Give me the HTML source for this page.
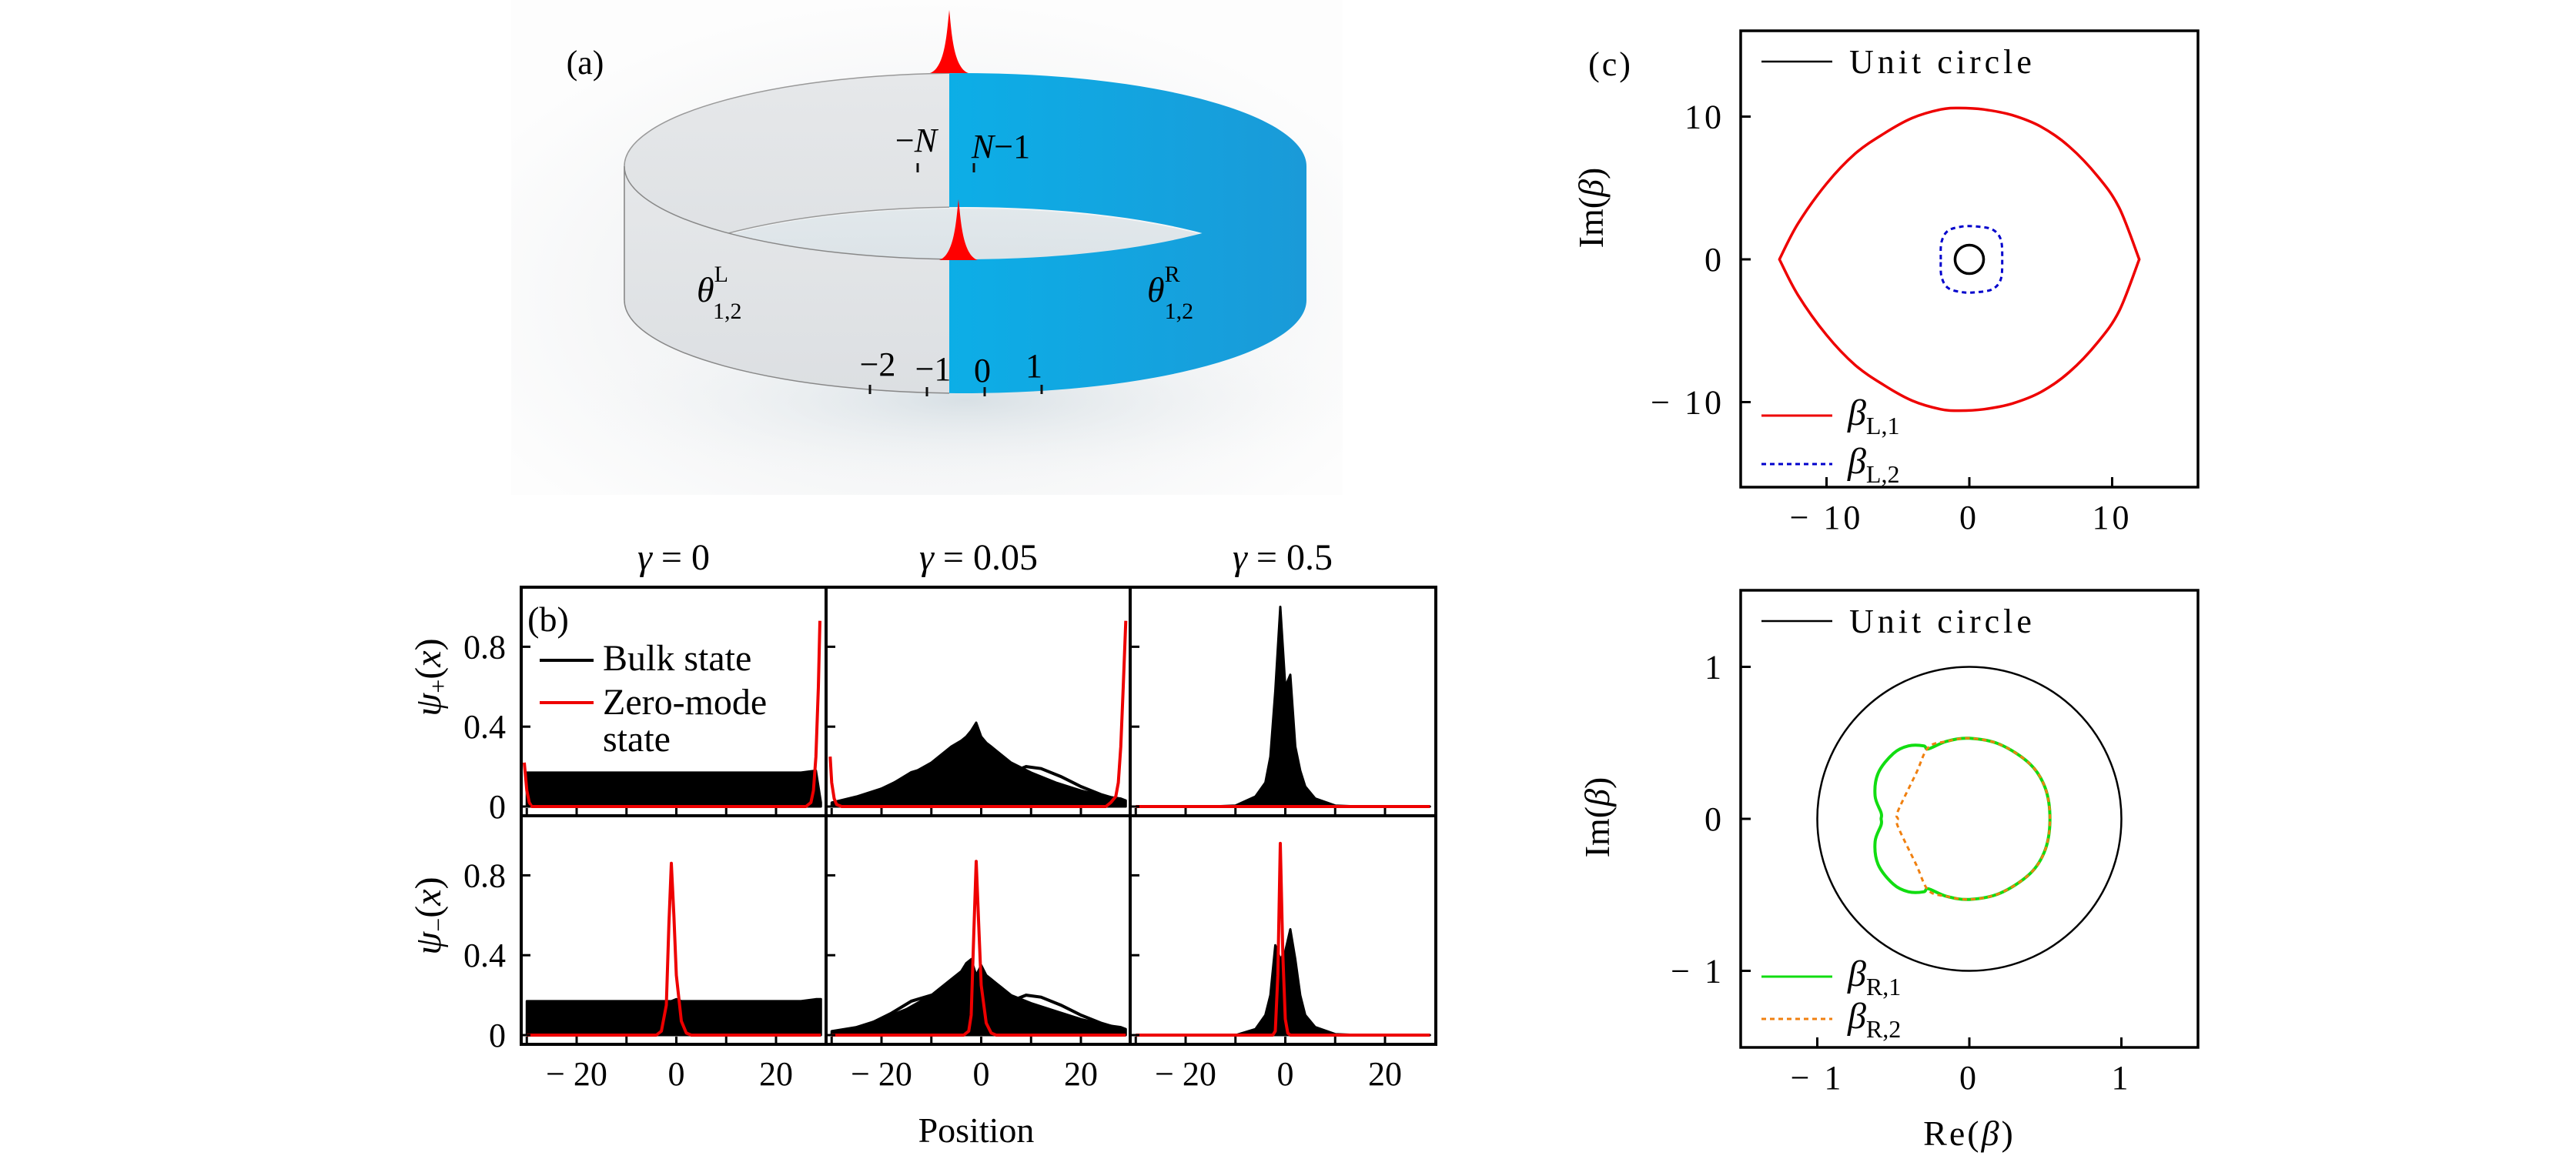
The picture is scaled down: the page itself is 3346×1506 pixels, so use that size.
<!DOCTYPE html>
<html><head><meta charset="utf-8">
<style>
html,body{margin:0;padding:0;background:#fff;}
svg{display:block;font-family:"Liberation Serif",serif;}
</style></head>
<body>
<svg id="fig" width="3346" height="1506" viewBox="0 0 3346 1506" xmlns="http://www.w3.org/2000/svg">
<defs>
  <radialGradient id="shadow" cx="0.5" cy="0.6" r="0.6">
    <stop offset="0" stop-color="#eceff1"/>
    <stop offset="0.6" stop-color="#f5f6f7"/>
    <stop offset="1" stop-color="#fdfdfd"/>
  </radialGradient>
  <radialGradient id="ringShadow" cx="0.5" cy="0.5" r="0.5">
    <stop offset="0" stop-color="#d8e0e5"/>
    <stop offset="1" stop-color="#f4f6f7" stop-opacity="0"/>
  </radialGradient>
  <linearGradient id="blueG" x1="0" y1="0" x2="1" y2="0">
    <stop offset="0" stop-color="#00c0f4"/>
    <stop offset="1" stop-color="#1a9ad8"/>
  </linearGradient>
  <linearGradient id="grayG" x1="0" y1="0" x2="0" y2="1">
    <stop offset="0" stop-color="#e6e8ea"/>
    <stop offset="1" stop-color="#dcdfe2"/>
  </linearGradient>
  <linearGradient id="floorG" x1="0" y1="0" x2="0" y2="1">
    <stop offset="0" stop-color="#dfe6ea"/>
    <stop offset="1" stop-color="#c9d4da"/>
  </linearGradient>
  <clipPath id="leftHalf"><rect x="600" y="0" width="633" height="700"/></clipPath>
  <clipPath id="rightHalf"><rect x="1233" y="0" width="600" height="700"/></clipPath>
</defs>

<g>
  <rect x="664" y="0" width="1080" height="643" fill="url(#shadow)"/>
  <ellipse cx="1254" cy="520" rx="500" ry="110" fill="url(#ringShadow)"/>
  <g>
    <path d="M811,216 A443,121 0 0 1 1697,216 L1697,390 A443,121 0 0 0 811,390 Z" fill="url(#grayG)" stroke="#999" stroke-width="1.5" clip-path="url(#leftHalf)"/>
    <path d="M811,216 A443,121 0 0 1 1697,216 L1697,390 A443,121 0 0 0 811,390 Z" fill="url(#blueG)" clip-path="url(#rightHalf)"/>
  </g>
  <ellipse cx="1254" cy="390" rx="440" ry="119" fill="url(#floorG)" opacity="0.85"/>
  <g>
    <path d="M811,216 A443,121 0 0 0 1697,216 L1697,390 A443,121 0 0 1 811,390 Z" fill="url(#grayG)" stroke="#888" stroke-width="1.5" clip-path="url(#leftHalf)"/>
    <path d="M811,216 A443,121 0 0 0 1697,216 L1697,390 A443,121 0 0 1 811,390 Z" fill="url(#blueG)" clip-path="url(#rightHalf)"/>
  </g>
  <path d="M1208,95 C1228,88 1230,40 1233,13 C1236,40 1238,88 1258,95 Z" fill="#f00"/>
  <path d="M1220,338 C1240,331 1242,285 1245,259 C1248,285 1250,331 1270,338 Z" fill="#f00"/>
  <g stroke="#111" stroke-width="3">
    <line x1="1192" y1="212" x2="1192" y2="224"/>
    <line x1="1265" y1="212" x2="1265" y2="224"/>
    <line x1="1130" y1="500" x2="1130" y2="512"/>
    <line x1="1204" y1="503" x2="1204" y2="515"/>
    <line x1="1279" y1="503" x2="1279" y2="515"/>
    <line x1="1353" y1="500" x2="1353" y2="512"/>
  </g>
  <text x="760" y="96" font-size="44" text-anchor="middle">(a)</text>
  <text x="1190" y="197" font-size="44" text-anchor="middle">−<tspan font-style="italic">N</tspan></text>
  <text x="1300" y="205" font-size="44" text-anchor="middle"><tspan font-style="italic">N</tspan>−1</text>
  <text x="905" y="392" font-size="46" font-style="italic">θ<tspan font-style="normal" font-size="30" dy="-26">L</tspan><tspan font-style="normal" font-size="30" dx="-20" dy="48">1,2</tspan></text>
  <text x="1490" y="392" font-size="46" font-style="italic">θ<tspan font-style="normal" font-size="30" dy="-26">R</tspan><tspan font-style="normal" font-size="30" dx="-20" dy="48">1,2</tspan></text>
  <text x="1140" y="488" font-size="44" text-anchor="middle">−2</text>
  <text x="1212" y="494" font-size="44" text-anchor="middle">−1</text>
  <text x="1276" y="496" font-size="44" text-anchor="middle">0</text>
  <text x="1343" y="490" font-size="44" text-anchor="middle">1</text>
</g>

<g id="panelB"></g>
<g id="panelC"></g>
</svg>

<script>
// ===== Panel (b) data =====
const colTitles = ["0", "0.05", "0.5"];
const xTicks = [-30, -20, -10, 0, 10, 20];
const xTickLabels = [-20, 0, 20];
const yTicks = [0, 0.4, 0.8];
const bulkX = [-30,-25,-20,-15,-10,-6,-4,-3,-2,-1,0,1,2,3,4,6,10,15,20,25,28,29];
const bulkPlusG0 = [0.17,0.17,0.17,0.17,0.17,0.17,0.17,0.17,0.17,0.17,0.17,0.17,0.17,0.17,0.17,0.17,0.17,0.17,0.17,0.17,0.18,0.02];
const bulkPlusG005 = [0.02,0.05,0.09,0.15,0.22,0.3,0.33,0.35,0.38,0.42,0.35,0.32,0.3,0.28,0.26,0.22,0.17,0.12,0.08,0.05,0.04,0.03];
const bulkPlusG05 = [0,0,0,0,0.005,0.05,0.12,0.25,0.58,1.0,0.6,0.66,0.3,0.18,0.1,0.04,0.005,0,0,0,0,0];
const bulkMinusG0 = [0.17,0.17,0.17,0.17,0.17,0.17,0.17,0.17,0.17,0.17,0.18,0.17,0.17,0.17,0.17,0.17,0.17,0.17,0.17,0.17,0.18,0.18];
const bulkMinusG005 = [0.02,0.04,0.08,0.13,0.2,0.28,0.32,0.36,0.38,0.3,0.35,0.3,0.28,0.26,0.24,0.2,0.16,0.12,0.08,0.05,0.04,0.03];
const bulkMinusG05 = [0,0,0,0,0,0.03,0.1,0.2,0.45,0.38,0.42,0.53,0.38,0.2,0.1,0.04,0.005,0,0,0,0,0];
const humpX = [-30,-26,-22,-18,-14,-10,-8,-5,-2,0];
const humpY = [0.01,0.03,0.06,0.11,0.17,0.2,0.2,0.17,0.1,0.05];
const hump2X = [0,4,7,9,12,16,20,24,28,29];
const hump2Y = [0.05,0.13,0.18,0.2,0.19,0.15,0.1,0.06,0.03,0.02];
const redPlusG0X = [-30.5,-30,-29.5,-29,-28,0,26,27,27.5,28,28.5,28.8];
const redPlusG0Y = [0.22,0.08,0.02,0,0,0,0,0.02,0.08,0.25,0.6,0.93];
const redPlusG005X = [-30.3,-30,-29.5,-29,-28,0,25,26,27,27.5,28,28.5,29];
const redPlusG005Y = [0.25,0.12,0.04,0.01,0,0,0,0.02,0.05,0.12,0.3,0.6,0.93];
const redPlusG05X = [-30,29];
const redPlusG05Y = [0,0];
const redMinusG0X = [-30,-4,-3,-2,-1.5,-1,-0.5,0,1,2,3,29];
const redMinusG0Y = [0,0,0.02,0.15,0.55,0.86,0.6,0.3,0.07,0.01,0,0];
const redMinusG005X = [-30,-3.5,-2.5,-2,-1.5,-1,-0.5,0,1,2,3,29];
const redMinusG005Y = [0,0,0.02,0.1,0.5,0.87,0.55,0.25,0.06,0.01,0,0];
const redMinusG05X = [-30,-2.5,-2,-1.5,-1,-0.5,0,0.5,1,29];
const redMinusG05Y = [0,0,0.02,0.3,0.96,0.4,0.08,0.01,0,0];

// ===== Panel (c) data =====
const cTicksTop = [-10, 0, 10];
const cTicksBot = [-1, 0, 1];
const redL1Re = [-13.3,-12,-10,-8,-6,-4,-2,-0.7,1,3,5,7,9,10.5,11.9];
const redL1Im = [0,2.5,5.3,7.4,8.8,9.9,10.5,10.6,10.5,10.1,9.3,7.9,5.8,3.6,0];
const blueL2Re = [-2,-1.95,-1.5,-0.5,0.5,1.6,2.2,2.3];
const blueL2Im = [0,1.2,2.0,2.3,2.3,2.1,1.4,0];
const greenR1Re = [0.53,0.5,0.4,0.2,0,-0.15,-0.27,-0.3,-0.4,-0.5,-0.6,-0.62,-0.58,-0.58];
const greenR1Im = [0,0.2,0.36,0.49,0.53,0.51,0.46,0.48,0.48,0.43,0.3,0.15,0.04,0];
const orangeR2Re = [0.53,0.5,0.4,0.2,0,-0.15,-0.27,-0.35,-0.47,-0.47];
const orangeR2Im = [0,0.2,0.36,0.49,0.53,0.51,0.47,0.3,0.05,0];

const NS = "http://www.w3.org/2000/svg";
function mk(tag, parent, attrs) {
  const e = document.createElementNS(NS, tag);
  for (const k in attrs) e.setAttribute(k, attrs[k]);
  parent.appendChild(e);
  return e;
}

// ---------- Panel B ----------
const pb = document.getElementById('panelB');
const colLeft = [677, 1073, 1468];
const colW = 396;
const rowTop = [763, 1060];
const rowH = 297;
const rowZero = [1048, 1345];
const yPer = 259.5;
const xPer = 6.475;
function bx(c, v) { return colLeft[c] + 201.5 + v * xPer; }
function by(r, v) { return rowZero[r] - v * yPer; }
function pathLine(c, r, xs, ys) {
  return xs.map((x, i) => (i ? 'L' : 'M') + bx(c, x).toFixed(1) + ',' + by(r, ys[i]).toFixed(1)).join(' ');
}
const bulkSets = [[bulkPlusG0, bulkPlusG005, bulkPlusG05], [bulkMinusG0, bulkMinusG005, bulkMinusG05]];
const redSets = [[[redPlusG0X, redPlusG0Y], [redPlusG005X, redPlusG005Y], [redPlusG05X, redPlusG05Y]],
                 [[redMinusG0X, redMinusG0Y], [redMinusG005X, redMinusG005Y], [redMinusG05X, redMinusG05Y]]];
for (let r = 0; r < 2; r++) {
  for (let c = 0; c < 3; c++) {
    const g = mk('g', pb, {});
    
    
    const ys = bulkSets[r][c];
    let d = pathLine(c, r, bulkX, ys) + ' L' + bx(c, bulkX[bulkX.length - 1]) + ',' + by(r, 0) + ' L' + bx(c, bulkX[0]) + ',' + by(r, 0) + ' Z';
    const bulk = mk('path', g, { d: d, fill: '#000', stroke: '#000', 'stroke-width': 3, 'stroke-linejoin': 'round' });
    
    
    if (c === 1) {
      const h1 = mk('path', g, { d: pathLine(c, r, humpX, humpY), fill: 'none', stroke: '#000', 'stroke-width': 4 });
      
      
      const h2 = mk('path', g, { d: pathLine(c, r, hump2X, hump2Y), fill: 'none', stroke: '#000', 'stroke-width': 4 });
      
      
    }
    const rs = redSets[r][c];
    const red = mk('path', g, { d: pathLine(c, r, rs[0], rs[1]), fill: 'none', stroke: '#e00', 'stroke-width': 4, 'stroke-linejoin': 'round' });
    
    
    xTicks.forEach(t => {
      const tk = mk('line', g, { x1: bx(c, t), x2: bx(c, t), y1: rowTop[r] + rowH, y2: rowTop[r] + rowH - 10, stroke: '#000', 'stroke-width': 3 });
      
      
    });
    yTicks.forEach(t => {
      const tk = mk('line', g, { x1: colLeft[c], x2: colLeft[c] + 12, y1: by(r, t), y2: by(r, t), stroke: '#000', 'stroke-width': 3 });
      
      
    });
  }
}
const frame = mk('g', pb, { fill: 'none', stroke: '#000', 'stroke-width': 4 });


mk('rect', frame, { x: colLeft[0], y: rowTop[0], width: colW * 3, height: rowH * 2 });
mk('line', frame, { x1: colLeft[1], x2: colLeft[1], y1: rowTop[0], y2: rowTop[1] + rowH });
mk('line', frame, { x1: colLeft[2], x2: colLeft[2], y1: rowTop[0], y2: rowTop[1] + rowH });
mk('line', frame, { x1: colLeft[0], x2: colLeft[0] + colW * 3, y1: rowTop[1], y2: rowTop[1] });
colTitles.forEach((t, c) => {
  const tx = mk('text', pb, { x: colLeft[c] + colW / 2, y: 740, 'font-size': 48, 'text-anchor': 'middle' });
  tx.innerHTML = '<tspan font-style="italic">γ</tspan> = ' + t;
  
  
});
for (let c = 0; c < 3; c++) {
  xTickLabels.forEach(t => {
    const tx = mk('text', pb, { x: bx(c, t), y: 1410, 'font-size': 44, 'text-anchor': 'middle' });
    tx.textContent = t < 0 ? '− ' + (-t) : String(t);
    
    
  });
}
for (let r = 0; r < 2; r++) {
  yTicks.forEach(t => {
    const tx = mk('text', pb, { x: 657, y: by(r, t) + 15, 'font-size': 44, 'text-anchor': 'end' });
    tx.textContent = t === 0 ? '0' : t.toFixed(1);
    
    
  });
}
const yl1 = mk('text', pb, { x: 0, y: 0, 'font-size': 48, 'text-anchor': 'middle', transform: 'translate(572,880) rotate(-90)' });
yl1.innerHTML = '<tspan font-style="italic">ψ</tspan><tspan font-size="32" dy="8">+</tspan><tspan dy="-8">(</tspan><tspan font-style="italic">x</tspan>)';


const yl2 = mk('text', pb, { x: 0, y: 0, 'font-size': 48, 'text-anchor': 'middle', transform: 'translate(572,1190) rotate(-90)' });
yl2.innerHTML = '<tspan font-style="italic">ψ</tspan><tspan font-size="32" dy="8">−</tspan><tspan dy="-8">(</tspan><tspan font-style="italic">x</tspan>)';


const xl = mk('text', pb, { x: 1268, y: 1484, 'font-size': 46, 'text-anchor': 'middle' });
xl.textContent = 'Position';


const bl = mk('text', pb, { x: 712, y: 820, 'font-size': 46, 'text-anchor': 'middle' });
bl.textContent = '(b)';


const leg = mk('g', pb, {});


const lg1 = mk('line', leg, { x1: 701, x2: 771, y1: 858, y2: 858, stroke: '#000', 'stroke-width': 4 });


const lt1 = mk('text', leg, { x: 783, y: 871, 'font-size': 48 });
lt1.textContent = 'Bulk state';


const lg2 = mk('line', leg, { x1: 701, x2: 771, y1: 913, y2: 913, stroke: '#e00', 'stroke-width': 4 });


const lt2 = mk('text', leg, { x: 783, y: 928, 'font-size': 48 });
lt2.textContent = 'Zero-mode';


const lt3 = mk('text', leg, { x: 783, y: 976, 'font-size': 48 });
lt3.textContent = 'state';



// ---------- Panel C ----------
const pc = document.getElementById('panelC');
const cLeft = 2261, cRight = 2855, cx0 = 2558;
const plots = [
  { top: 40, bot: 633, cy0: 337, per: 18.55, ticks: cTicksTop, name: 'beta-left-plot' },
  { top: 767, bot: 1361, cy0: 1064, per: 197.5, ticks: cTicksBot, name: 'beta-right-plot' }
];
function X(p, v) { return cx0 + v * plots[p].per; }
function Y(p, v) { return plots[p].cy0 - v * plots[p].per; }
function smoothSeg(pts, closed) {
  const n = pts.length;
  let d = '';
  const last = closed ? n : n - 1;
  for (let i = 0; i < last; i++) {
    const p0 = closed ? pts[(i - 1 + n) % n] : pts[Math.max(i - 1, 0)];
    const p1 = pts[i];
    const p2 = pts[(i + 1) % n];
    const p3 = closed ? pts[(i + 2) % n] : pts[Math.min(i + 2, n - 1)];
    const c1 = [p1[0] + (p2[0] - p0[0]) / 6, p1[1] + (p2[1] - p0[1]) / 6];
    const c2 = [p2[0] - (p3[0] - p1[0]) / 6, p2[1] - (p3[1] - p1[1]) / 6];
    d += ' C' + c1[0].toFixed(1) + ',' + c1[1].toFixed(1) + ' ' + c2[0].toFixed(1) + ',' + c2[1].toFixed(1) + ' ' + p2[0].toFixed(1) + ',' + p2[1].toFixed(1);
  }
  return d;
}
// smooth closed curve through mirrored points
function closedPath(p, re, im) {
  const pts = [];
  for (let i = 0; i < re.length; i++) pts.push([X(p, re[i]), Y(p, im[i])]);
  for (let i = re.length - 2; i >= 1; i--) pts.push([X(p, re[i]), Y(p, -im[i])]);
  return 'M' + pts[0][0].toFixed(1) + ',' + pts[0][1].toFixed(1) + smoothSeg(pts, true) + ' Z';
}
// lens with sharp tips: upper and lower arcs smoothed separately
function lensPath(p, re, im) {
  const up = [], lo = [];
  for (let i = 0; i < re.length; i++) up.push([X(p, re[i]), Y(p, im[i])]);
  for (let i = re.length - 1; i >= 0; i--) lo.push([X(p, re[i]), Y(p, -im[i])]);
  return 'M' + up[0][0].toFixed(1) + ',' + up[0][1].toFixed(1) + smoothSeg(up, false) + smoothSeg(lo, false) + ' Z';
}
plots.forEach((P, p) => {
  const g = mk('g', pc, {});
  
  
  const box = mk('rect', g, { x: cLeft, y: P.top, width: cRight - cLeft, height: P.bot - P.top, fill: 'none', stroke: '#000', 'stroke-width': 3.5 });
  
  
  P.ticks.forEach(t => {
    const a = mk('line', g, { x1: X(p, t), x2: X(p, t), y1: P.bot, y2: P.bot - 13, stroke: '#000', 'stroke-width': 3 });
    
    
    const b = mk('line', g, { x1: cLeft, x2: cLeft + 13, y1: Y(p, t), y2: Y(p, t), stroke: '#000', 'stroke-width': 3 });
    
    
    const lab = t < 0 ? '− ' + (-t) : String(t);
    const tx = mk('text', g, { x: X(p, t), y: P.bot + 54, 'font-size': 44, 'text-anchor': 'middle', 'letter-spacing': 4 });
    tx.textContent = lab;
    
    
    const ty = mk('text', g, { x: 2240, y: Y(p, t) + 15, 'font-size': 44, 'text-anchor': 'end', 'letter-spacing': 4 });
    ty.textContent = lab;
    
    
  });
  const yt = mk('text', g, { x: 0, y: 0, 'font-size': 46, 'text-anchor': 'middle', transform: 'translate(' + (p ? 2090 : 2082) + ',' + (p ? 1062 : 270) + ') rotate(-90)' });
  yt.innerHTML = 'Im(<tspan font-style="italic">β</tspan>)';
  
  
  const uc = mk('ellipse', g, { cx: X(p, 0), cy: Y(p, 0), rx: P.per, ry: P.per, fill: 'none', stroke: '#000', 'stroke-width': p ? 2.5 : 3.5 });
  
  
  const ul = mk('line', g, { x1: 2288, x2: 2380, y1: P.top + 40, y2: P.top + 40, stroke: '#000', 'stroke-width': 2.5 });
  
  
  const ut = mk('text', g, { x: 2402, y: P.top + 55, 'font-size': 44, 'letter-spacing': 5 });
  ut.textContent = 'Unit circle';
  
  
});
const cL1 = mk('path', pc, { d: lensPath(0, redL1Re, redL1Im), fill: 'none', stroke: '#e00', 'stroke-width': 3.5, 'stroke-linejoin': 'round' });


const cL2 = mk('path', pc, { d: closedPath(0, blueL2Re, blueL2Im), fill: 'none', stroke: '#00c', 'stroke-width': 3, 'stroke-dasharray': '6 5' });


const cR1 = mk('path', pc, { d: closedPath(1, greenR1Re, greenR1Im), fill: 'none', stroke: '#1d1', 'stroke-width': 4, 'stroke-linejoin': 'round' });


const cR2 = mk('path', pc, { d: closedPath(1, orangeR2Re, orangeR2Im), fill: 'none', stroke: '#f08010', 'stroke-width': 3, 'stroke-dasharray': '6 5' });


const legItems = [
  { y: 540, color: '#e00', dash: null, sub: 'L,1', name: 'legend-beta-l1' },
  { y: 603, color: '#00c', dash: '6 5', sub: 'L,2', name: 'legend-beta-l2' },
  { y: 1269, color: '#1d1', dash: null, sub: 'R,1', name: 'legend-beta-r1' },
  { y: 1324, color: '#f08010', dash: '6 5', sub: 'R,2', name: 'legend-beta-r2' }
];
legItems.forEach(it => {
  const ln = mk('line', pc, { x1: 2288, x2: 2380, y1: it.y, y2: it.y, stroke: it.color, 'stroke-width': 3 });
  if (it.dash) ln.setAttribute('stroke-dasharray', it.dash);
  
  
  const tx = mk('text', pc, { x: 2400, y: it.y + 12, 'font-size': 48 });
  tx.innerHTML = '<tspan font-style="italic">β</tspan><tspan font-size="32" dy="12">' + it.sub + '</tspan>';
  
  
});
const cl = mk('text', pc, { x: 2092, y: 98, 'font-size': 44, 'text-anchor': 'middle', 'letter-spacing': 3 });
cl.textContent = '(c)';


const rx = mk('text', pc, { x: 2558, y: 1488, 'font-size': 46, 'text-anchor': 'middle', 'letter-spacing': 3 });
rx.innerHTML = 'Re(<tspan font-style="italic">β</tspan>)';


</script>
</body></html>
